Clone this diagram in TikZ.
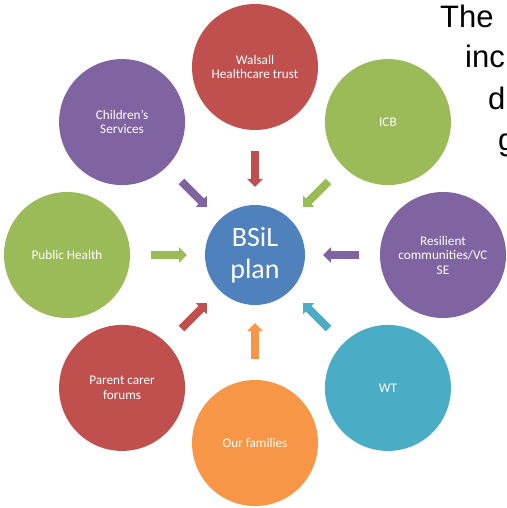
\documentclass[tikz,border=0pt]{standalone}
\usepackage{fontspec}
\setmainfont{Carlito}
\newfontfamily\headfont{Liberation Sans}
\usepackage{tikz}
\usetikzlibrary{arrows.meta,positioning}
\usepackage{xcolor}
\definecolor{bsred}{RGB}{192,80,77}
\definecolor{bsgreen}{RGB}{155,187,89}
\definecolor{bspurple}{RGB}{128,100,162}
\definecolor{bsteal}{RGB}{75,172,198}
\definecolor{bsorange}{RGB}{247,150,70}
\definecolor{bsblue}{RGB}{79,129,189}
\tikzstyle{partner} = [circle, minimum size=126pt, inner sep=0pt, outer sep=0pt, text=white, align=center, font=\fontsize{13.2}{14.5}\selectfont]
\tikzstyle{plan} = [circle, minimum size=100pt, inner sep=0pt, outer sep=0pt, fill=bsblue, text=white, align=center, font=\fontsize{28}{32}\selectfont]
\tikzstyle{feed} = [line width=8pt, -{Triangle[width=15pt,length=8pt]}, shorten <=21pt, shorten >=18pt]
\tikzstyle{head} = [anchor=base west, inner sep=0pt, font=\headfont\fontsize{31}{36}\selectfont]

\begin{document}
\begin{tikzpicture}[x=1pt, y=1pt]
\useasboundingbox (-255,-253) rectangle (251,255);
\clip (-255,-253) rectangle (251,255);
% Centre
\node[plan] (bsil) at (0,0) {BSiL\\plan};

% Partners round the plan
\node[partner, fill=bsred] (walsall) at (90:188) {Walsall\\Healthcare trust};
\node[partner, fill=bsgreen] (icb) at (45:188) {ICB};
\node[partner, fill=bspurple] (resilient) at (0:188) {Resilient\\communities/VC\\SE};
\node[partner, fill=bsteal] (wt) at (-45:188) {WT};
\node[partner, fill=bsorange] (families) at (-90:188) {Our families};
\node[partner, fill=bsred] (forums) at (-135:188) {Parent carer\\forums};
\node[partner, fill=bsgreen] (health) at (180:188) {Public Health};
\node[partner, fill=bspurple] (children) at (135:188) {Children's\\Services};

\draw[feed, bsred] (walsall) -- (bsil);
\draw[feed, bsgreen] (icb) -- (bsil);
\draw[feed, bspurple] (resilient) -- (bsil);
\draw[feed, bsteal] (wt) -- (bsil);
\draw[feed, bsorange] (families) -- (bsil);
\draw[feed, bsred] (forums) -- (bsil);
\draw[feed, bsgreen] (health) -- (bsil);
\draw[feed, bspurple] (children) -- (bsil);

% Text running off the right edge
\node[head] (the) at (185,227) {The};
\node[head] (inc) at (210,187) {inc};
\node[head] (dline) at (233,145) {d};
\node[head] (gline) at (243,104) {g};
\end{tikzpicture}
\end{document}
